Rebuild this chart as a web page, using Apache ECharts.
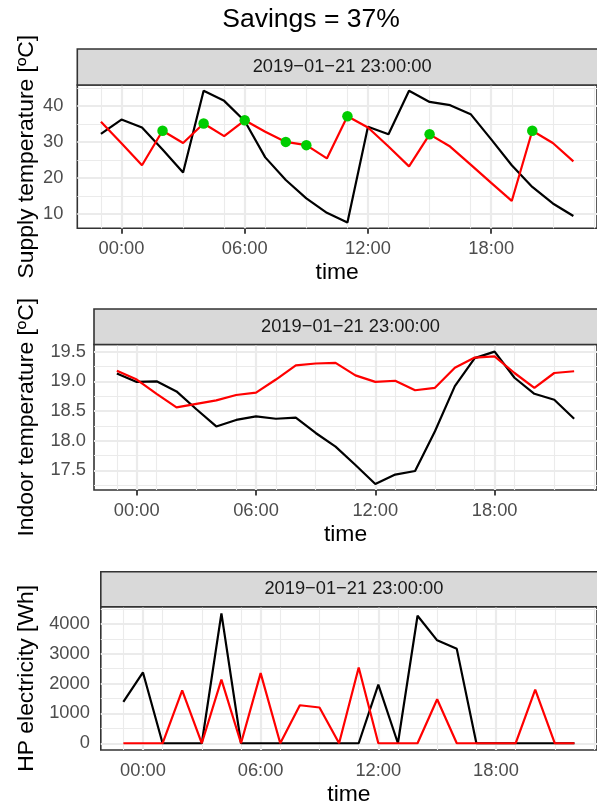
<!DOCTYPE html>
<html><head><meta charset="utf-8">
<script src="https://cdn.jsdelivr.net/npm/echarts@6/dist/echarts.min.js"></script>
<style>html,body{margin:0;padding:0;background:#fff}#c{width:597px;height:807px}</style>
</head><body><div id="c"></div>
<script>
// ---------- data ----------
const hours = [-1,0,1,2,3,4,5,6,7,8,9,10,11,12,13,14,15,16,17,18,19,20,21,22];
const supplyBaseline  = [32.2,36.2,34.0,27.9,21.5,44.2,41.4,35.8,25.7,19.4,14.3,10.3,7.6,34.2,32.1,44.2,41.1,40.2,37.7,30.7,23.5,17.5,12.9,9.4];
const supplyOptimized = [35.6,29.6,23.5,33.1,29.7,35.1,31.6,36.0,32.8,30.0,29.1,25.4,37.1,34.0,28.7,23.2,32.1,28.7,23.7,18.6,13.6,33.1,29.7,24.6];
const hpOnHours  = [2,4,6,8,9,11,15,20];
const hpOnSupply = [33.1,35.1,36.0,30.0,29.1,37.1,32.1,33.1];
const indoorBaseline  = [19.13,18.99,19.00,18.83,18.53,18.24,18.35,18.41,18.37,18.39,18.13,17.90,17.59,17.27,17.43,17.49,18.16,18.92,19.39,19.50,19.06,18.79,18.69,18.37];
const indoorOptimized = [19.18,19.03,18.79,18.56,18.62,18.68,18.77,18.81,19.03,19.27,19.30,19.31,19.10,18.99,19.01,18.85,18.89,19.23,19.40,19.42,19.14,18.89,19.14,19.17];
const elecBaseline  = [1385,2374,0,0,0,4352,0,0,0,0,0,0,0,1967,0,4275,3451,3165,0,0,0,0,0,0];
const elecOptimized = [0,0,0,1769,0,2132,0,2352,0,1275,1198,0,2538,0,0,0,1473,0,0,0,0,1802,0,0];

const xTickHours  = [0,6,12,18];
const xTickLabels = ['00:00','06:00','12:00','18:00'];
const xMinorHours = [-1,1,3,5,7,9,11,13,15,17,19,21,23];
const supplyTicks = [10,20,30,40];
const supplyMinor = [15,25,35,45];
const indoorTicks = [17.5,18.0,18.5,19.0,19.5];
const indoorMinor = [17.25,17.75,18.25,18.75,19.25];
const elecTicks = [0,1000,2000,3000,4000];
const elecMinor = [500,1500,2500,3500,4500];
const stripLabel = '2019\u221201\u221221 23:00:00';
const titleText = 'Savings = 37%';
const yNames = ['Supply temperature [\u00baC]', 'Indoor temperature [\u00baC]', 'HP electricity [Wh]'];

// ---------- layout ----------
const FONT = '"Liberation Sans", Arial, Helvetica, sans-serif';
const RIGHT_EDGE = 607;
const panels = [
  {left:77.3, top:85,    height:143.3, stripTop:49,    yMin:6.0,   yMax:45.8,  ticks:supplyTicks, minor:supplyMinor, base:supplyBaseline, opt:supplyOptimized, lm:14, fmt:v=>String(v)},
  {left:94,   top:344.5, height:145.5, stripTop:309,   yMin:17.17, yMax:19.62, ticks:indoorTicks, minor:indoorMinor, base:indoorBaseline, opt:indoorOptimized, lm:8, fmt:v=>v.toFixed(1)},
  {left:100.8,top:606.7, height:145.6, stripTop:571.7, yMin:-226,  yMax:4578,  ticks:elecTicks,   minor:elecMinor,   base:elecBaseline,   opt:elecOptimized,   lm:11, fmt:v=>String(v)}
];

const GRID_C = '#EBEBEB';
const option = {
  animation:false,
  textStyle:{fontFamily:FONT},
  grid: panels.map(p=>({left:p.left, top:p.top, width:RIGHT_EDGE-p.left, height:p.height,
      show:true, backgroundColor:'#FFFFFF', borderColor:'#333333', borderWidth:1.6})),
  xAxis: panels.map((p,i)=>({
    gridIndex:i, type:'value', min:-2.15, max:23.15,
    axisLine:{show:false},
    axisTick:{show:true, length:5.5, lineStyle:{color:'#333333', width:1.8}, customValues:xTickHours},
    axisLabel:{customValues:xTickHours, formatter:v=>xTickLabels[xTickHours.indexOf(v)],
      color:'#4D4D4D', fontSize:18.3, margin:11.5, fontFamily:FONT},
    splitLine:{show:false},
    name:'time', nameLocation:'middle', nameGap:33, nameMoveOverlap:false,
    nameTextStyle:{color:'#000000', fontSize:22.9, fontFamily:FONT}
  })),
  yAxis: panels.map((p,i)=>({
    gridIndex:i, type:'value', min:p.yMin, max:p.yMax,
    axisLine:{show:false},
    axisTick:{show:true, length:5.5, lineStyle:{color:'#333333', width:1.8}, customValues:p.ticks},
    axisLabel:{customValues:p.ticks, formatter:p.fmt, color:'#4D4D4D', fontSize:18.3, margin:p.lm, fontFamily:FONT},
    splitLine:{show:false},
    name:yNames[i], nameLocation:'middle', nameGap:p.left-38, nameMoveOverlap:false,
    nameTextStyle:{color:'#000000', fontSize:22.9, fontFamily:FONT}
  })),
  series: [],
  graphic: []
};

panels.forEach((p,i)=>{
  const gridLines = [];
  p.minor.forEach(v=>gridLines.push({yAxis:v, lineStyle:{width:1.1}}));
  xMinorHours.forEach(v=>gridLines.push({xAxis:v, lineStyle:{width:1.1}}));
  p.ticks.forEach(v=>gridLines.push({yAxis:v, lineStyle:{width:2.2}}));
  xTickHours.forEach(v=>gridLines.push({xAxis:v, lineStyle:{width:2.2}}));
  option.series.push({
    type:'line', xAxisIndex:i, yAxisIndex:i, silent:true, z:1,
    data: hours.map((h,k)=>[h,p.base[k]]),
    symbol:'none', lineStyle:{opacity:0},
    markLine:{silent:true, z:1, symbol:['none','none'], animation:false, label:{show:false},
      emphasis:{disabled:true},
      lineStyle:{color:GRID_C, type:'solid'}, data:gridLines}
  });
  option.series.push({
    type:'line', xAxisIndex:i, yAxisIndex:i, z:6, symbol:'none', silent:true,
    data: hours.map((h,k)=>[h,p.base[k]]),
    lineStyle:{color:'#000000', width:2.2}
  });
  option.series.push({
    type:'line', xAxisIndex:i, yAxisIndex:i, z:7, symbol:'none', silent:true,
    data: hours.map((h,k)=>[h,p.opt[k]]),
    lineStyle:{color:'#FF0000', width:2.2}
  });
  // strip
  const stripH = p.top - p.stripTop;
  option.graphic.push({
    type:'rect', z:20, silent:true,
    shape:{x:p.left, y:p.stripTop, width:RIGHT_EDGE-p.left, height:stripH},
    style:{fill:'#D9D9D9', stroke:'#333333', lineWidth:1.6}
  });
  option.graphic.push({
    type:'text', z:21, silent:true,
    x:(p.left+RIGHT_EDGE)/2, y:p.stripTop+stripH/2,
    style:{text:stripLabel, fill:'#1A1A1A', font:'18.3px '+FONT, textAlign:'center', textVerticalAlign:'middle'}
  });
});

option.series.push({
  type:'scatter', xAxisIndex:0, yAxisIndex:0, z:8, silent:true,
  data: hpOnHours.map((h,k)=>[h,hpOnSupply[k]]),
  symbol:'circle', symbolSize:10.5, itemStyle:{color:'#00CD00', opacity:1}
});

option.graphic.push({
  type:'text', silent:true, x:311, y:20,
  style:{text:titleText, fill:'#000000', font:'26.5px '+FONT, textAlign:'center', textVerticalAlign:'middle'}
});

const chart = echarts.init(document.getElementById('c'), null, {renderer:'canvas'});
chart.setOption(option);
</script>
</body></html>
